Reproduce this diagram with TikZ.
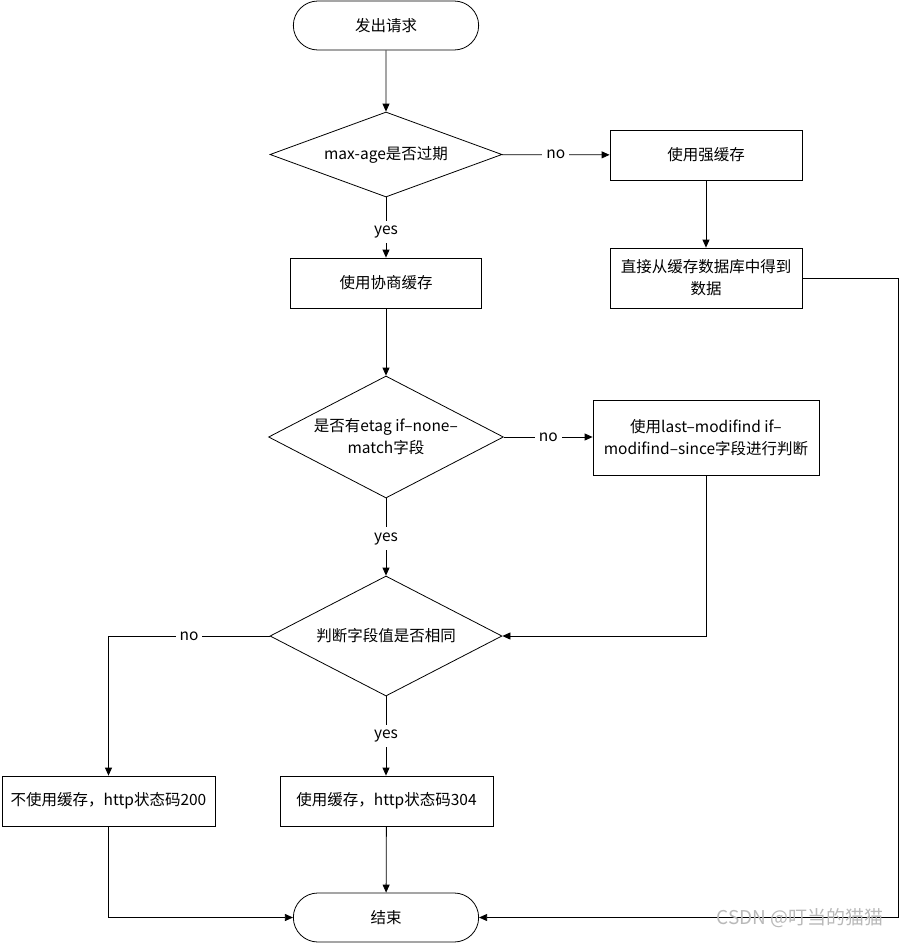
\documentclass[tikz,border=0pt]{standalone}
\usepackage{fontspec}
\setmainfont{Noto Sans CJK SC}
\usetikzlibrary{shapes.geometric,shapes.misc,arrows.meta}

\begin{document}
\begin{tikzpicture}[x=1pt,y=-1pt,line width=0.8pt,font=\fontsize{15.5}{22}\selectfont,
  term/.style={draw,rounded rectangle,minimum width=192pt,minimum height=49pt},
  box/.style={draw,rectangle,inner sep=2pt,align=center},
  test/.style={draw,diamond,aspect=2.5,inner sep=0pt,minimum width=232pt,align=center},
  flow/.style={-{Triangle[length=8pt,width=7pt]}},
  lbl/.style={fill=white,inner xsep=4pt,inner ysep=5pt}]
\useasboundingbox (0,0) rectangle (900,943);
\node[term] (start) at (386,25.5) {发出请求};
\node[test,minimum height=85pt] (maxage) at (386,154.5) {max-age是否过期};
\node[box,minimum width=192pt,minimum height=50pt] (strong) at (706,155) {使用强缓存};
\node[box,minimum width=192pt,minimum height=60pt] (fetch) at (706,278) {直接从缓存数据库中得到\\数据};
\node[box,minimum width=191pt,minimum height=50pt] (nego) at (386,283) {使用协商缓存};
\node[test,minimum height=122pt] (etag) at (386,437) {是否有etag if–none–\\match字段};
\node[box,minimum width=226pt,minimum height=75pt] (lastmod) at (706,438) {使用last–modifind if–\\modifind–since字段进行判断};
\node[test,minimum height=120pt] (same) at (386,636) {判断字段值是否相同};
\node[box,minimum width=213pt,minimum height=50pt] (full) at (108.5,801) {不使用缓存，http状态码200};
\node[box,minimum width=213pt,minimum height=50pt] (cached) at (386.5,801) {使用缓存，http状态码304};
\node[term] (finish) at (386,917.5) {结束};
\coordinate (rail) at (898,278);
% connectors
\draw[flow] (start) -- (maxage);
\draw[flow] (maxage) -- node[lbl]{no} (strong);
\draw[flow] (strong) -- (fetch);
\draw[flow] (fetch.east) -- (rail) |- (finish.east);
\draw[flow] (maxage) -- node[lbl,pos=0.58]{yes} (nego);
\draw[flow] (nego) -- (etag);
\draw[flow] (etag.east) -- node[lbl]{no} (etag.east -| lastmod.west);
\draw[flow] (etag) -- node[lbl,pos=0.52]{yes} (same);
\draw[flow] (lastmod.south) |- (same.east);
\draw[flow] (same.west) -| node[lbl,pos=0.25]{no} (full.north);
\draw[flow] (same.south) -- node[lbl]{yes} (same.south |- cached.north);
\draw[flow] (cached) -- (finish);
\draw[flow] (full.south) |- (finish.west);
\node[text=gray!55,font=\fontsize{19}{19}\selectfont] (mark) at (800,918) {CSDN @叮当的猫猫};
\end{tikzpicture}
\end{document}
